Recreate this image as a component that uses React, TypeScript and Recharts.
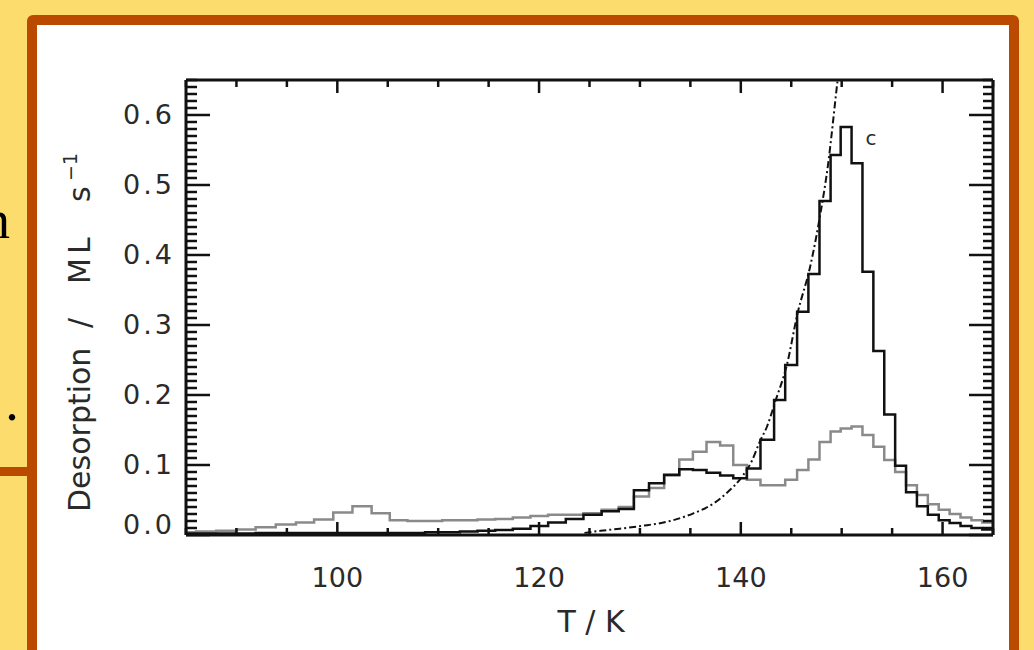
import React from 'react';
import { LineChart, Line, XAxis, YAxis, ReferenceDot } from 'recharts';

// start temperature (K) of every histogram bin, last entry closes the final bin
const binT = [
  85.0, 86.0, 88.0, 90.0, 91.9, 93.9, 95.9, 97.7, 99.6, 101.5,
  103.4, 105.2, 106.95, 108.7, 110.4, 112.15, 113.9, 115.65, 117.4, 119.15,
  120.9, 122.65, 124.4, 126.2, 127.9, 129.4, 130.9, 132.4, 133.9, 135.25,
  136.6, 137.95, 139.25, 140.6, 141.95, 143.3, 144.4, 145.58, 146.7, 147.8,
  148.9, 149.9, 150.98, 152.06, 153.14, 154.22, 155.3, 156.38, 157.46, 158.54,
  159.62, 160.7, 161.78, 162.86, 163.94, 165.0,
];

// desorption rate, ML s^-1 (black trace)
const rateBlack = [
  0.002, 0.002, 0.002, 0.002, 0.003, 0.003, 0.003, 0.003, 0.003, 0.003,
  0.003, 0.003, 0.003, 0.004, 0.004, 0.005, 0.006, 0.007, 0.009, 0.013,
  0.018, 0.023, 0.029, 0.034, 0.037, 0.064, 0.074, 0.086, 0.094, 0.093,
  0.089, 0.085, 0.081, 0.095, 0.136, 0.193, 0.243, 0.319, 0.373, 0.477,
  0.543, 0.583, 0.531, 0.376, 0.263, 0.172, 0.099, 0.061, 0.041, 0.029,
  0.021, 0.017, 0.013, 0.010, 0.008, 0.008,
];

// desorption rate, ML s^-1 (grey trace)
const rateGray = [
  0.004, 0.005, 0.006, 0.008, 0.011, 0.015, 0.018, 0.022, 0.032, 0.041,
  0.031, 0.021, 0.020, 0.020, 0.021, 0.021, 0.022, 0.023, 0.025, 0.027,
  0.029, 0.029, 0.031, 0.036, 0.040, 0.055, 0.067, 0.085, 0.108, 0.119,
  0.133, 0.128, 0.100, 0.079, 0.071, 0.071, 0.079, 0.093, 0.108, 0.133,
  0.148, 0.152, 0.155, 0.143, 0.126, 0.107, 0.090, 0.071, 0.057, 0.044,
  0.036, 0.030, 0.025, 0.021, 0.018, 0.018,
];

// leading edge fit (dash-dot)
const fitT = [
  124.5, 126.1, 128.0, 130.2, 133.0, 135.3, 137.3, 138.6, 140.0, 141.1,
  141.9, 142.6, 143.4, 144.6, 145.6, 146.9, 147.9, 148.7, 149.1, 149.4, 149.6,
];
const fitRate = [
  0.003, 0.006, 0.009, 0.013, 0.020, 0.031, 0.045, 0.060, 0.081, 0.106,
  0.134, 0.155, 0.190, 0.245, 0.315, 0.385, 0.460, 0.535, 0.585, 0.625, 0.65,
];

const xMajor = [100, 120, 140, 160];
const yLabels = ['0.0', '0.1', '0.2', '0.3', '0.4', '0.5', '0.6'];

const histData = binT.map((T, i) => ({ T, black: rateBlack[i], gray: rateGray[i] }));
const fitData = fitT.map((T, i) => ({ T, fit: fitRate[i] }));

const xTicks: number[] = [];
for (let t = 85; t <= 165; t += 5) xTicks.push(t);
const yTicks: number[] = [];
for (let i = 0; i <= 65; i++) yTicks.push(i / 100);

const FONT = '"DejaVu Sans", Arial, sans-serif';
const INK = '#111';
const TEXT = '#2a2a2a';
const isMajorY = (v: number) => Math.round(v * 100) % 10 === 0;

const BottomTick = ({ x, y, payload }: any) => {
  const major = xMajor.includes(payload.value);
  return (
    <g>
      <line x1={x} x2={x} y1={y} y2={y - (major ? 13 : 7)} stroke={INK} strokeWidth={2.5} />
      {major && (
        <text x={x} y={y + 52} textAnchor="middle" fontFamily={FONT} fontSize={27} fill={TEXT}>
          {payload.value}
        </text>
      )}
    </g>
  );
};

const TopTick = ({ x, y, payload }: any) => {
  const major = xMajor.includes(payload.value);
  return <line x1={x} x2={x} y1={y} y2={y + (major ? 13 : 7)} stroke={INK} strokeWidth={2.5} />;
};

const LeftTick = ({ x, y, payload }: any) => {
  const v = payload.value;
  const major = isMajorY(v);
  return (
    <g>
      <line x1={x} x2={x + (major ? 24 : 11)} y1={y} y2={y} stroke={INK} strokeWidth={2.5} />
      {major && (
        <text
          x={x - 11}
          y={v === 0 ? y - 1 : y + 9}
          textAnchor="end"
          fontFamily={FONT}
          fontSize={27}
          letterSpacing={3}
          fill={TEXT}
        >
          {yLabels[Math.round(v * 10)]}
        </text>
      )}
    </g>
  );
};

const RightTick = ({ x, y, payload }: any) => {
  const major = isMajorY(payload.value);
  return <line x1={x} x2={x - (major ? 24 : 10)} y1={y} y2={y} stroke={INK} strokeWidth={2.5} />;
};

const YTitle = () => (
  <text transform="translate(90, 512) rotate(-90)" fontFamily={FONT} fontSize={30} fill={TEXT}>
    <tspan x={0}>Desorption</tspan>
    <tspan x={184}>/</tspan>
    <tspan x={228} letterSpacing={4}>ML</tspan>
    <tspan x={310}>s</tspan>
    <tspan x={331} dy={-13} fontSize={19}>−1</tspan>
  </text>
);

const XTitle = () => (
  <text x={591} y={632} textAnchor="middle" fontFamily={FONT} fontSize={30} fill={TEXT} style={{ whiteSpace: 'pre' }}>
    {'T / K'}
  </text>
);

export default function App() {
  return (
    <div
      style={{
        position: 'absolute',
        left: 0,
        top: 0,
        width: 1034,
        height: 650,
        overflow: 'hidden',
        background: '#FCDC6C',
      }}
    >
      <svg width={1034} height={650} style={{ position: 'absolute', left: 0, top: 0 }}>
        <rect x={27} y={15} width={992} height={700} rx={6} fill="#BA4A00" />
        <rect x={37} y={25} width={972} height={700} fill="#fff" />
        <rect x={0} y={467} width={27} height={9} fill="#BA4A00" />
        <text x={10} y={238} textAnchor="end" fontFamily='"Liberation Serif", serif' fontSize={54} fill="#000">
          n
        </text>
        <text x={12} y={420} textAnchor="middle" fontFamily='"Liberation Serif", serif' fontSize={54} fill="#000">
          .
        </text>
      </svg>
      <div style={{ position: 'absolute', left: 0, top: 0 }}>
        <LineChart width={1034} height={650} margin={{ top: 78, right: 39, bottom: 0, left: 0 }}>
          <XAxis
            dataKey="T"
            type="number"
            domain={[85, 165]}
            allowDataOverflow
            ticks={xTicks}
            interval={0}
            height={115}
            tickSize={0}
            tickMargin={0}
            tickLine={false}
            axisLine={{ stroke: INK, strokeWidth: 3 }}
            tick={(p: any) => <BottomTick {...p} />}
            label={{ content: () => <XTitle /> }}
          />
          <XAxis
            xAxisId="top"
            orientation="top"
            dataKey="T"
            type="number"
            domain={[85, 165]}
            allowDataOverflow
            ticks={xTicks}
            interval={0}
            height={2}
            tickSize={0}
            tickMargin={0}
            tickLine={false}
            axisLine={{ stroke: INK, strokeWidth: 3 }}
            tick={(p: any) => <TopTick {...p} />}
          />
          <YAxis
            type="number"
            domain={[0, 0.65]}
            allowDataOverflow
            ticks={yTicks}
            interval={0}
            width={186}
            tickSize={0}
            tickMargin={0}
            tickLine={false}
            axisLine={{ stroke: INK, strokeWidth: 3 }}
            tick={(p: any) => <LeftTick {...p} />}
            label={{ content: () => <YTitle /> }}
          />
          <YAxis
            yAxisId="right"
            orientation="right"
            type="number"
            domain={[0, 0.65]}
            allowDataOverflow
            ticks={yTicks}
            interval={0}
            width={2}
            tickSize={0}
            tickMargin={0}
            tickLine={false}
            axisLine={{ stroke: INK, strokeWidth: 3 }}
            tick={(p: any) => <RightTick {...p} />}
          />
          <Line
            data={histData}
            dataKey="gray"
            type="stepAfter"
            stroke="#8a8a8a"
            strokeWidth={2.5}
            dot={false}
            activeDot={false}
            isAnimationActive={false}
          />
          <Line
            data={histData}
            dataKey="black"
            type="stepAfter"
            stroke={INK}
            strokeWidth={2.5}
            dot={false}
            activeDot={false}
            isAnimationActive={false}
          />
          <Line
            data={fitData}
            dataKey="fit"
            type="monotone"
            stroke={INK}
            strokeWidth={2}
            strokeDasharray="7 3 2 3"
            dot={false}
            activeDot={false}
            isAnimationActive={false}
          />
          <ReferenceDot
            x={152.9}
            y={0.567}
            r={0}
            label={{ value: 'c', position: 'center', fontFamily: FONT, fontSize: 20, fill: TEXT }}
          />
        </LineChart>
      </div>
    </div>
  );
}
